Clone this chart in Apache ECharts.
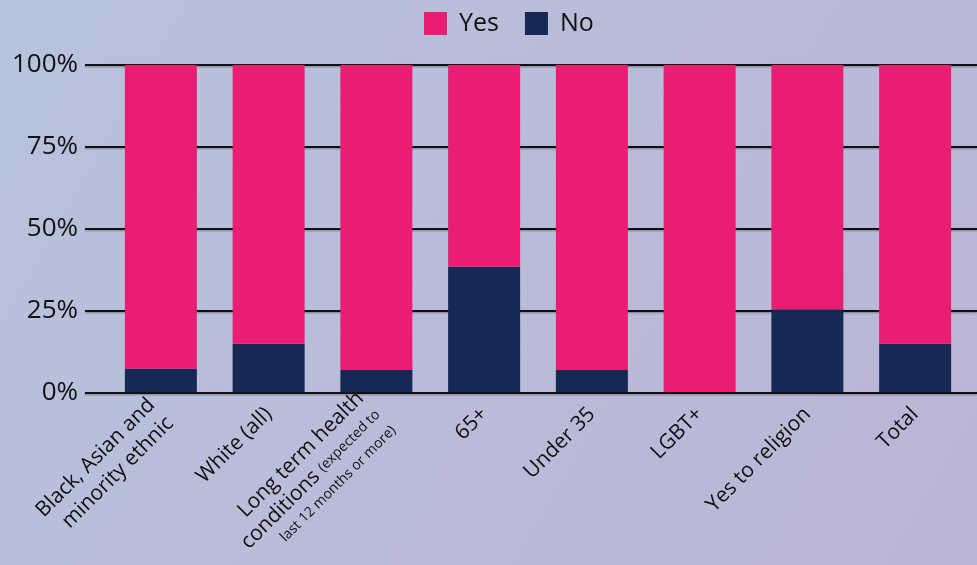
<!DOCTYPE html>
<html>
<head>
<meta charset="utf-8">
<script src="https://cdn.jsdelivr.net/npm/echarts@6/dist/echarts.min.js"></script>
<style>
  html, body { margin: 0; padding: 0; }
  #chart { width: 977px; height: 565px; }
</style>
</head>
<body>
<div id="chart"></div>
<script>
var categories = [
    'Black, Asian and\nminority ethnic',
    'White (all)',
    'Long term health\nconditions (expected to\nlast 12 months or more)',
    '65+',
    'Under 35',
    'LGBT+',
    'Yes to religion',
    'Total'
];
var yesValues = [92.5, 85, 93, 61.5, 93, 100, 74.5, 85];
var noValues = [7.5, 15, 7, 38.5, 7, 0, 25.5, 15];
var yTicks = [0, 25, 50, 75, 100];

var fontName = '"Open Sans", "Noto Sans", sans-serif';
var pink = '#e91e72';
var navy = '#172855';

var myChart = echarts.init(document.getElementById('chart'));

myChart.setOption({
    animation: false,
    backgroundColor: new echarts.graphic.LinearGradient(0, 0, 1, 1, [
        {offset: 0, color: '#b7c3dd'},
        {offset: 1, color: '#bbb5d5'}
    ]),
    textStyle: {fontFamily: fontName},
    legend: {
        top: 11,
        left: 424,
        padding: 0,
        itemWidth: 23,
        itemHeight: 23,
        itemGap: 26,
        icon: 'rect',
        textStyle: {fontSize: 25, color: '#111', fontFamily: fontName, padding: [0, 0, 0, 7]},
        data: ['Yes', 'No']
    },
    grid: [
        // grid lines + y labels, full width
        {left: 85, right: 0, top: 65, bottom: 172, outerBoundsMode: 'none', containLabel: false},
        // bars
        {left: 107, right: 8, top: 65, bottom: 172, outerBoundsMode: 'none', containLabel: false}
    ],
    xAxis: [
        {
            gridIndex: 0,
            type: 'category',
            data: categories,
            show: false
        },
        {
            gridIndex: 1,
            type: 'category',
            data: categories,
            z: 5,
            axisLine: {show: true, lineStyle: {color: '#111', width: 2}},
            axisTick: {show: false},
            axisLabel: {
                rotate: 45,
                interval: 0,
                margin: 18,
                color: '#111',
                fontSize: 21,
                fontFamily: fontName,
                lineHeight: 26,
                formatter: function (val) {
                    if (val.indexOf('conditions') >= 0) {
                        return '{a|Long term health}\n{a|conditions} {b|(expected to}\n{b|last 12 months or more)}';
                    }
                    return val;
                },
                rich: {
                    a: {fontSize: 21, color: '#111', fontFamily: fontName, lineHeight: 23},
                    b: {fontSize: 14, color: '#111', fontFamily: fontName, lineHeight: 19}
                }
            }
        }
    ],
    yAxis: [
        {
            gridIndex: 0,
            type: 'value',
            min: 0,
            max: 100,
            interval: 25,
            axisLine: {show: false},
            axisTick: {show: false},
            splitLine: {
                show: true,
                lineStyle: {
                    color: '#111', width: 2,
                    shadowColor: 'rgba(0,0,0,0.35)', shadowBlur: 2, shadowOffsetY: 1
                }
            },
            axisLabel: {
                margin: 7,
                color: '#111',
                fontSize: 26,
                fontFamily: fontName,
                padding: [0, 0, 8, 0],
                formatter: function (v) {
                    return yTicks.indexOf(v) >= 0 ? v + '%' : '';
                }
            }
        },
        {
            gridIndex: 1,
            type: 'value',
            min: 0,
            max: 100,
            interval: 25,
            show: false
        }
    ],
    series: [
        {
            name: 'No',
            type: 'bar',
            stack: 'total',
            xAxisIndex: 1,
            yAxisIndex: 1,
            barWidth: 72,
            itemStyle: {color: navy},
            data: noValues
        },
        {
            name: 'Yes',
            type: 'bar',
            stack: 'total',
            xAxisIndex: 1,
            yAxisIndex: 1,
            barWidth: 72,
            itemStyle: {color: pink},
            data: yesValues
        }
    ]
});
</script>
</body>
</html>
